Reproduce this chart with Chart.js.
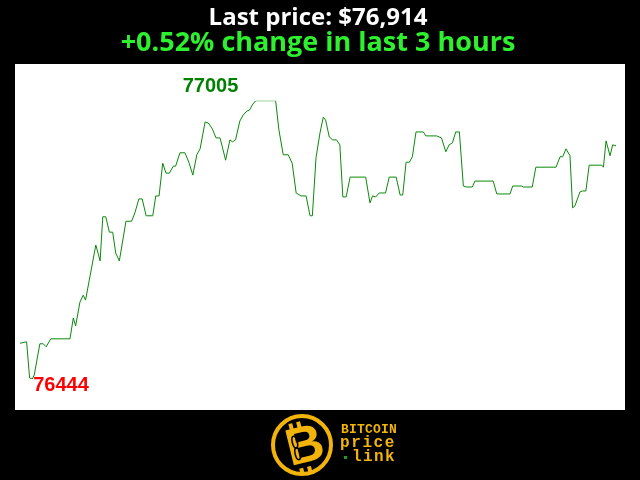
<!DOCTYPE html>
<html>
<head>
<meta charset="utf-8">
<script src="https://cdn.jsdelivr.net/npm/chart.js"></script>
<style>
  body { margin: 0; background: #000; }
  canvas { display: block; }
</style>
</head>
<body>
<canvas id="myChart" width="640" height="480"></canvas>
<script>
// minutes since start of the 3 hour window, and the price at that minute
const minutes = [0, 2.0, 2.9, 3.7, 4.3, 6.0, 7.0, 7.9, 9.3, 15.1, 16.1, 16.8, 18.1, 19.1, 19.8, 22.9, 24.2, 25.0, 25.9, 27.0,
  28.0, 28.9, 30.0, 32.0, 33.7, 34.7, 35.9, 36.9, 38.1, 40.1, 41.0, 42.0, 43.1, 44.1, 45.1, 46.3, 47.0, 48.3, 49.8, 51.0,
  52.2, 53.4, 54.4, 55.9, 56.9, 58.1, 59.2, 60.4, 61.1, 62.1, 63.4, 64.2, 65.1, 66.4, 67.4, 68.5, 69.3, 70.3, 71.2, 77.2,
  78.2, 79.5, 81.0, 82.2, 83.4, 84.9, 86.4, 87.6, 88.3, 89.4, 90.6, 91.6, 92.3, 93.4, 94.4, 95.6, 96.6, 97.5, 98.5, 99.7,
  104.4, 105.7, 106.5, 107.4, 108.5, 110.4, 111.5, 113.6, 114.8, 115.6, 116.6, 117.6, 118.5, 119.6, 121.8, 122.6, 125.8, 127.3, 128.6, 129.6,
  130.6, 131.6, 132.7, 133.9, 134.9, 136.6, 137.4, 142.9, 144.0, 148.0, 148.8, 151.5, 152.0, 154.7, 155.8, 161.9, 163.1, 163.9, 164.9, 166.1,
  166.9, 167.6, 169.1, 169.9, 170.9, 171.9, 175.7, 176.2, 177.0, 178.2, 179.0, 180];
const prices = [76516, 76519, 76446, 76444, 76452, 76515, 76515, 76509, 76525, 76525, 76567, 76551, 76599, 76613, 76603, 76714, 76682, 76771, 76771, 76740,
  76740, 76698, 76682, 76762, 76762, 76779, 76807, 76807, 76773, 76773, 76813, 76813, 76879, 76859, 76859, 76873, 76873, 76900, 76900, 76881,
  76855, 76896, 76908, 76962, 76960, 76948, 76930, 76930, 76912, 76885, 76926, 76922, 76926, 76964, 76976, 76984, 76986, 76998, 77005, 77005,
  76946, 76896, 76896, 76879, 76819, 76813, 76813, 76773, 76773, 76890, 76940, 76972, 76966, 76932, 76926, 76926, 76916, 76811, 76811, 76851,
  76851, 76799, 76813, 76811, 76819, 76819, 76851, 76851, 76815, 76815, 76881, 76881, 76892, 76942, 76942, 76934, 76934, 76930, 76902, 76916,
  76920, 76942, 76942, 76833, 76831, 76831, 76843, 76843, 76817, 76817, 76833, 76833, 76831, 76831, 76871, 76871, 76892, 76892, 76908, 76894,
  76789, 76793, 76821, 76823, 76823, 76875, 76875, 76871, 76924, 76894, 76916, 76914];

const titleText = 'Last price: $76,914';
const changeText = '+0.52% change in last 3 hours';

const maxPrice = Math.max(...prices);
const minPrice = Math.min(...prices);
const maxMinute = minutes[prices.indexOf(maxPrice)];
const minMinute = minutes[prices.indexOf(minPrice)];

const gold = '#f2b40a';

const panelPlugin = {
  id: 'panel',
  beforeDraw(chart) {
    const ctx = chart.ctx;
    ctx.save();
    ctx.fillStyle = '#000';
    ctx.fillRect(0, 0, chart.width, chart.height);
    ctx.fillStyle = '#fff';
    ctx.fillRect(15, 64, 610, 346);
    ctx.restore();
  },
  afterDatasetsDraw(chart) {
    // high / low labels
    const ctx = chart.ctx;
    const x = chart.scales.x, y = chart.scales.y;
    ctx.save();
    ctx.font = 'bold 20px "Liberation Sans", Arial, sans-serif';
    ctx.textBaseline = 'alphabetic';
    ctx.textAlign = 'left';
    ctx.fillStyle = '#008000';
    ctx.fillText(String(maxPrice), x.getPixelForValue(maxMinute) - 73, y.getPixelForValue(maxPrice) - 9);
    ctx.fillStyle = '#ff0000';
    ctx.fillText(String(minPrice), x.getPixelForValue(minMinute) + 1, y.getPixelForValue(minPrice) + 12);
    ctx.restore();
  },
  afterDraw(chart) {
    const ctx = chart.ctx;
    ctx.save();
    // coin
    ctx.strokeStyle = gold;
    ctx.lineWidth = 4;
    ctx.beginPath();
    ctx.arc(302, 445, 29, 0, Math.PI * 2);
    ctx.stroke();
    ctx.translate(304, 446);
    ctx.rotate(-0.24);
    ctx.fillStyle = gold;
    ctx.font = 'bold 52px "Liberation Sans", Arial, sans-serif';
    ctx.textAlign = 'center';
    ctx.textBaseline = 'middle';
    ctx.fillText('B', 1, 2);
    ctx.fillRect(-10, -25, 4, 6);
    ctx.fillRect(-2, -25, 4, 6);
    ctx.fillRect(-10, 21, 4, 6);
    ctx.fillRect(-2, 21, 4, 6);
    // little chain on the stem
    ctx.strokeStyle = '#000';
    ctx.lineWidth = 1.6;
    ctx.beginPath();
    ctx.ellipse(-8, -6, 2.5, 6, 0, 0, Math.PI * 2);
    ctx.stroke();
    ctx.beginPath();
    ctx.ellipse(-8, 6, 2.5, 6, 0, 0, Math.PI * 2);
    ctx.stroke();
    ctx.restore();

    // wordmark
    ctx.save();
    ctx.fillStyle = gold;
    ctx.textBaseline = 'alphabetic';
    ctx.textAlign = 'left';
    ctx.font = 'bold 13px "Liberation Mono", "DejaVu Sans Mono", monospace';
    'BITCOIN'.split('').forEach((c, i) => ctx.fillText(c, 341 + i * 8, 433));
    ctx.font = 'bold 16px "Liberation Mono", "DejaVu Sans Mono", monospace';
    'price'.split('').forEach((c, i) => ctx.fillText(c, 340 + i * 11.2, 447));
    'link'.split('').forEach((c, i) => ctx.fillText(c, 352 + i * 11, 461));
    ctx.fillStyle = '#1f9f1f';
    ctx.fillRect(344, 456, 3, 3);
    ctx.restore();
  }
};

const ctx = document.getElementById('myChart');
new Chart(ctx, {
  type: 'line',
  data: {
    datasets: [{
      data: minutes.map((m, i) => ({ x: m, y: prices[i] })),
      borderColor: '#0a8a0a',
      borderWidth: 1,
      pointRadius: 0,
      tension: 0,
      fill: false
    }]
  },
  options: {
    responsive: false,
    animation: false,
    layout: {
      padding: { left: 20, right: 24, top: 0, bottom: 101 }
    },
    scales: {
      x: { type: 'linear', min: 0, max: 180, display: false },
      y: { min: minPrice, max: maxPrice, display: false }
    },
    plugins: {
      legend: { display: false },
      tooltip: { enabled: false },
      title: {
        display: true,
        text: titleText,
        color: '#fff',
        font: { family: '"Open Sans", sans-serif', size: 24, weight: 'bold', lineHeight: 1 },
        padding: { top: 6, bottom: 0 }
      },
      subtitle: {
        display: true,
        text: changeText,
        color: '#2ef02e',
        font: { family: '"Open Sans", sans-serif', size: 27, weight: 'bold', lineHeight: 0.8 },
        padding: { top: 3, bottom: 46.1 }
      }
    }
  },
  plugins: [panelPlugin]
});
</script>
</body>
</html>
